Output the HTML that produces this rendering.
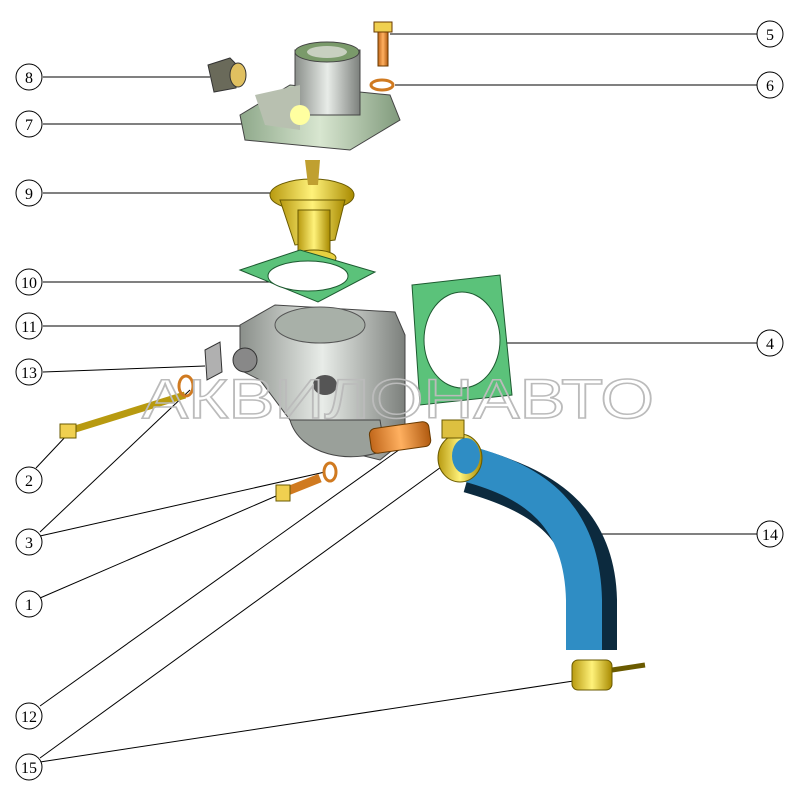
<!DOCTYPE html>
<html><head><meta charset="utf-8"><style>
html,body{margin:0;padding:0;background:#fff;}
svg{display:block;}
</style></head><body>
<svg width="800" height="800" viewBox="0 0 800 800" xmlns="http://www.w3.org/2000/svg" font-family="Liberation Serif, serif">
<rect width="800" height="800" fill="#fff"/>
<defs>
<linearGradient id="gr" x1="0" x2="1"><stop offset="0" stop-color="#8a8f8a"/><stop offset=".5" stop-color="#e8ece8"/><stop offset="1" stop-color="#7c807c"/></linearGradient>
<linearGradient id="gg" x1="0" x2="1"><stop offset="0" stop-color="#8ea88a"/><stop offset=".5" stop-color="#d8e6d0"/><stop offset="1" stop-color="#809a7c"/></linearGradient>
<linearGradient id="ye" x1="0" x2="1"><stop offset="0" stop-color="#b89a10"/><stop offset=".5" stop-color="#fff27a"/><stop offset="1" stop-color="#a88a00"/></linearGradient>
<linearGradient id="or" x1="0" x2="1"><stop offset="0" stop-color="#c0661a"/><stop offset=".5" stop-color="#ffb060"/><stop offset="1" stop-color="#b05a10"/></linearGradient>
</defs>

<!-- leader lines -->
<g stroke="#000" stroke-width="1" fill="none">
<line x1="43" y1="77" x2="210" y2="77"/>
<line x1="43" y1="124" x2="245" y2="124"/>
<line x1="43" y1="193" x2="300" y2="193"/>
<line x1="43" y1="282" x2="290" y2="282"/>
<line x1="43" y1="326" x2="245" y2="326"/>
<line x1="43" y1="372" x2="205" y2="366"/>
<line x1="36" y1="468" x2="68" y2="434"/>
<line x1="40" y1="532" x2="190" y2="390"/>
<line x1="40" y1="536" x2="325" y2="472"/>
<line x1="40" y1="598" x2="290" y2="490"/>
<line x1="40" y1="706" x2="410" y2="442"/>
<line x1="40" y1="758" x2="448" y2="462"/>
<line x1="40" y1="762" x2="580" y2="680"/>
<line x1="757" y1="34" x2="390" y2="34"/>
<line x1="757" y1="85" x2="395" y2="85"/>
<line x1="757" y1="343" x2="500" y2="343"/>
<line x1="757" y1="534" x2="595" y2="534"/>
</g>

<!-- hose 14 -->
<path d="M470,470 C540,490 592,520 594,600 L594,650" stroke="#0c2a3e" stroke-width="46" fill="none"/>
<path d="M468,464 C535,482 582,515 584,600 L584,650" stroke="#2f8dc4" stroke-width="36" fill="none"/>

<!-- gasket 4 -->
<path d="M412,285 L500,275 L512,395 L420,405 Z" fill="#5bc27a" stroke="#1d5a30"/>
<ellipse cx="462" cy="340" rx="38" ry="48" fill="#fff" stroke="#1d5a30"/>

<!-- housing top 7 -->
<path d="M240,115 L290,85 L390,95 L400,120 L350,150 L245,140 Z" fill="url(#gg)" stroke="#444"/>
<rect x="295" y="50" width="65" height="65" fill="url(#gr)" stroke="#444"/>
<ellipse cx="327" cy="52" rx="32" ry="10" fill="#7a9a6a" stroke="#444"/>
<ellipse cx="327" cy="52" rx="20" ry="6" fill="#c8d0c0"/>
<path d="M255,95 L300,85 L300,130 L265,125 Z" fill="#b8c0b0"/>
<circle cx="300" cy="115" r="10" fill="#ffffa0"/>

<!-- part 8 nut -->
<path d="M208,65 L230,58 L240,68 L236,88 L214,92 Z" fill="#6a6a5a" stroke="#333"/>
<ellipse cx="238" cy="75" rx="8" ry="12" fill="#e0c060" stroke="#333"/>

<!-- bolt 5 and washer 6 -->
<rect x="378" y="26" width="10" height="40" fill="url(#or)" stroke="#6a3a00"/>
<rect x="374" y="22" width="18" height="10" fill="#f0d050" stroke="#6a3a00"/>
<ellipse cx="382" cy="85" rx="11" ry="5" fill="none" stroke="#d07a20" stroke-width="3"/>

<!-- thermostat 9 -->
<ellipse cx="312" cy="195" rx="42" ry="16" fill="url(#ye)" stroke="#6a5a00"/>
<path d="M280,200 L345,200 L335,240 L295,245 Z" fill="url(#ye)" stroke="#6a5a00"/>
<rect x="298" y="210" width="32" height="45" fill="url(#ye)" stroke="#6a5a00"/>
<ellipse cx="314" cy="258" rx="22" ry="8" fill="#e8d040" stroke="#6a5a00"/>
<path d="M305,160 L320,160 L318,185 L308,185 Z" fill="#c0a030"/>

<!-- gasket 10 -->
<path d="M240,270 L300,250 L375,272 L318,302 Z" fill="#5bc27a" stroke="#1d5a30"/>
<ellipse cx="308" cy="276" rx="40" ry="15" fill="#fff" stroke="#1d5a30"/>

<!-- housing 11 -->
<path d="M240,325 L275,305 L395,312 L405,335 L405,440 L380,460 L320,445 L290,420 L260,380 L240,370 Z" fill="url(#gr)" stroke="#444"/>
<ellipse cx="320" cy="325" rx="45" ry="18" fill="#a8b0a8" stroke="#555"/>
<path d="M290,420 C300,455 350,465 385,450 L380,420 Z" fill="#9aa09a" stroke="#444"/>
<ellipse cx="325" cy="385" rx="12" ry="10" fill="#555"/>
<ellipse cx="245" cy="360" rx="12" ry="12" fill="#888" stroke="#333"/>

<!-- bracket 13 -->
<path d="M205,350 L220,342 L222,372 L207,380 Z" fill="#b0b0b0" stroke="#333"/>

<!-- part 12 nozzle -->
<rect x="370" y="425" width="60" height="25" rx="6" fill="url(#or)" stroke="#6a3a00" transform="rotate(-8 400 437)"/>

<!-- clamps 15 -->
<ellipse cx="460" cy="458" rx="22" ry="24" fill="url(#ye)" stroke="#6a5a00"/>
<ellipse cx="466" cy="456" rx="14" ry="18" fill="#2f8dc4"/>
<rect x="442" y="420" width="22" height="18" fill="#ddc040" stroke="#6a5a00"/>
<rect x="572" y="660" width="40" height="30" rx="6" fill="url(#ye)" stroke="#6a5a00"/>
<line x1="612" y1="670" x2="645" y2="665" stroke="#6a5a00" stroke-width="5"/>

<!-- bolt 2 -->
<line x1="72" y1="430" x2="185" y2="395" stroke="#b89a10" stroke-width="7"/>
<rect x="60" y="424" width="16" height="14" fill="#f0d050" stroke="#6a5a00"/>
<ellipse cx="186" cy="386" rx="7" ry="10" fill="none" stroke="#d07a20" stroke-width="3"/>

<!-- bolt 1 and washer 3 -->
<line x1="285" y1="492" x2="320" y2="478" stroke="#d07a20" stroke-width="9"/>
<rect x="276" y="485" width="14" height="16" fill="#f0d050" stroke="#6a5a00"/>
<ellipse cx="330" cy="472" rx="6" ry="9" fill="none" stroke="#d07a20" stroke-width="3"/>

<!-- watermark -->
<text x="142" y="418" textLength="512" lengthAdjust="spacingAndGlyphs" font-family="Liberation Sans, sans-serif" font-size="56" fill="none" stroke="#bbb" stroke-width="1.5">АКВИЛОНАВТО</text>

<!-- number circles -->
<g fill="#fff" stroke="#000" stroke-width="1">
<circle cx="29" cy="77" r="13"/><circle cx="29" cy="124" r="13"/><circle cx="29" cy="193" r="13"/>
<circle cx="29" cy="282" r="13"/><circle cx="29" cy="326" r="13"/><circle cx="29" cy="372" r="13"/>
<circle cx="29" cy="480" r="13"/><circle cx="29" cy="542" r="13"/><circle cx="29" cy="604" r="13"/>
<circle cx="29" cy="716" r="13"/><circle cx="29" cy="767" r="13"/>
<circle cx="770" cy="34" r="13"/><circle cx="770" cy="85" r="13"/><circle cx="770" cy="343" r="13"/><circle cx="770" cy="534" r="13"/>
</g>
<g font-size="16" text-anchor="middle" fill="#000">
<text x="29" y="83">8</text><text x="29" y="130">7</text><text x="29" y="199">9</text>
<text x="29" y="288">10</text><text x="29" y="332">11</text><text x="29" y="378">13</text>
<text x="29" y="486">2</text><text x="29" y="548">3</text><text x="29" y="610">1</text>
<text x="29" y="722">12</text><text x="29" y="773">15</text>
<text x="770" y="40">5</text><text x="770" y="91">6</text><text x="770" y="349">4</text><text x="770" y="540">14</text>
</g>
</svg>
</body></html>
